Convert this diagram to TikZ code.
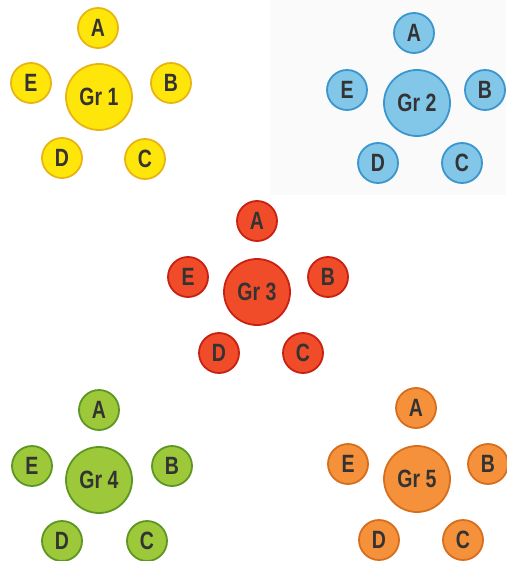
\documentclass[tikz,border=0pt]{standalone}
\usepackage{fontspec}
\setmainfont{Liberation Sans}[FakeStretch=0.78]
\usepackage{tikz}

\definecolor{yelfill}{RGB}{255,230,10}
\definecolor{yeldraw}{RGB}{232,180,20}
\definecolor{blufill}{RGB}{130,198,232}
\definecolor{bludraw}{RGB}{58,150,205}
\definecolor{redfill}{RGB}{240,76,42}
\definecolor{reddraw}{RGB}{200,32,18}
\definecolor{grnfill}{RGB}{156,200,58}
\definecolor{grndraw}{RGB}{94,150,36}
\definecolor{orgfill}{RGB}{245,145,58}
\definecolor{orgdraw}{RGB}{214,110,30}

\begin{document}
\begin{tikzpicture}[
        x=1pt, y=-1pt,
        font=\fontsize{25}{25}\selectfont\bfseries,
        big/.style={circle, minimum size=66pt, inner sep=0pt, line width=1.8pt, text=black!80},
        small/.style={circle, minimum size=40pt, inner sep=0pt, line width=1.8pt, text=black!80},
        cyel/.style={fill=yelfill, draw=yeldraw},
        cblu/.style={fill=blufill, draw=bludraw},
        cred/.style={fill=redfill, draw=reddraw},
        cgrn/.style={fill=grnfill, draw=grndraw},
        corg/.style={fill=orgfill, draw=orgdraw}
    ]
    \useasboundingbox (0,0) rectangle (506,561);
    \fill[black!2] (270,0) rectangle (506,195);
    % group 1
    \node[big, cyel] (g1) at (99,97) {Gr 1};
    \node[small, cyel] (g1a) at (98,28) {A};
    \node[small, cyel] (g1b) at (171,83) {B};
    \node[small, cyel] (g1c) at (145,159) {C};
    \node[small, cyel] (g1d) at (62,158) {D};
    \node[small, cyel] (g1e) at (31,83) {E};
    % group 2
    \node[big, cblu] (g2) at (417,103) {Gr 2};
    \node[small, cblu] (g2a) at (414,33) {A};
    \node[small, cblu] (g2b) at (485,90) {B};
    \node[small, cblu] (g2c) at (462,163) {C};
    \node[small, cblu] (g2d) at (378,163) {D};
    \node[small, cblu] (g2e) at (347,90) {E};
    % group 3
    \node[big, cred] (g3) at (257,292) {Gr 3};
    \node[small, cred] (g3a) at (257,221) {A};
    \node[small, cred] (g3b) at (328,277) {B};
    \node[small, cred] (g3c) at (303,353) {C};
    \node[small, cred] (g3d) at (219,353) {D};
    \node[small, cred] (g3e) at (188,277) {E};
    % group 4
    \node[big, cgrn] (g4) at (99,480) {Gr 4};
    \node[small, cgrn] (g4a) at (99,410) {A};
    \node[small, cgrn] (g4b) at (172,466) {B};
    \node[small, cgrn] (g4c) at (147,541) {C};
    \node[small, cgrn] (g4d) at (62,541) {D};
    \node[small, cgrn] (g4e) at (32,466) {E};
    % group 5
    \node[big, corg] (g5) at (417,479) {Gr 5};
    \node[small, corg] (g5a) at (416,408) {A};
    \node[small, corg] (g5b) at (488,464) {B};
    \node[small, corg] (g5c) at (463,540) {C};
    \node[small, corg] (g5d) at (379,540) {D};
    \node[small, corg] (g5e) at (348,464) {E};
\end{tikzpicture}
\end{document}
